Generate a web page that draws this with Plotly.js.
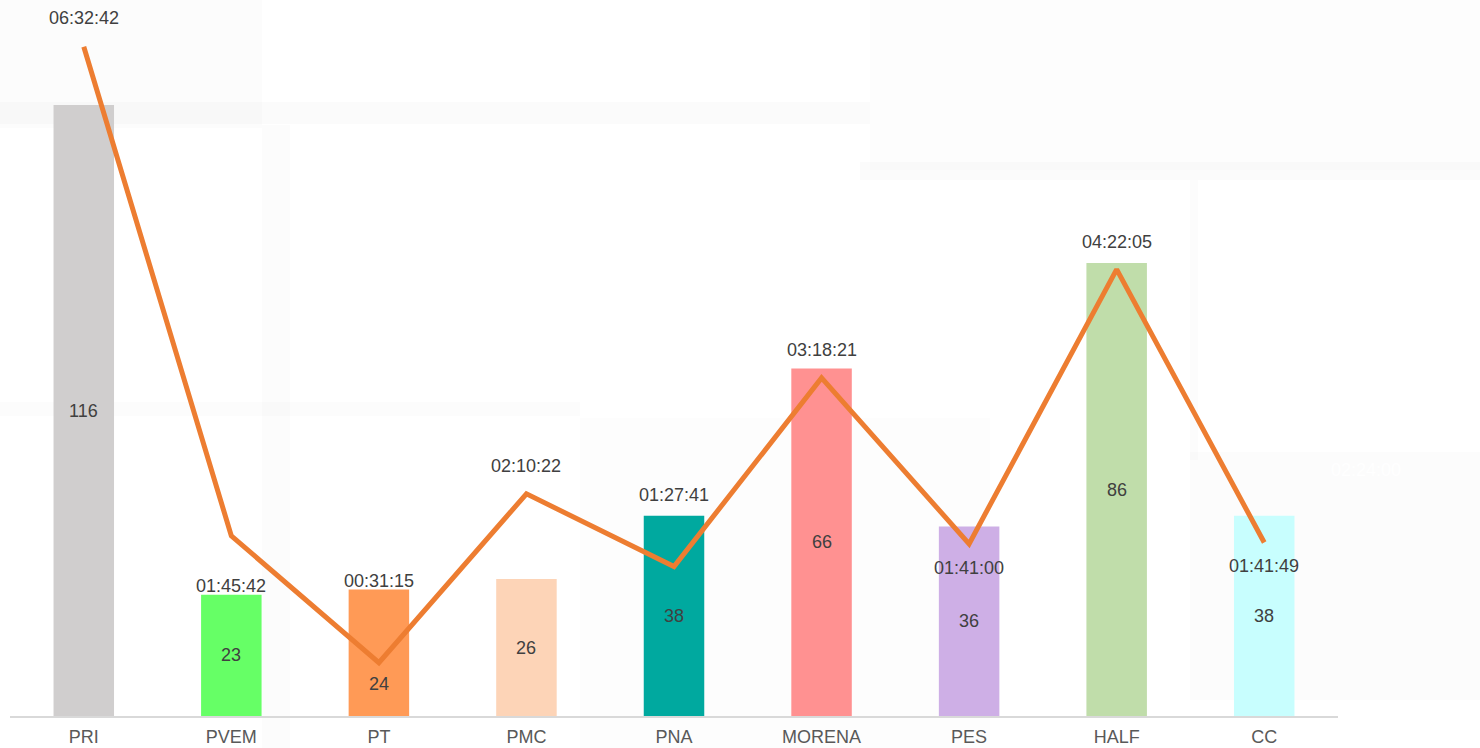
<!DOCTYPE html>
<html>
<head>
<meta charset="utf-8">
<script src="https://cdn.plot.ly/plotly-3.0.1.min.js"></script>
<style>
  html, body { margin: 0; padding: 0; background: #ffffff; }
  #chart { width: 1480px; height: 748px; }
</style>
</head>
<body>
<div id="chart"></div>
<script>
// ---- data ----
const parties = ["PRI", "PVEM", "PT", "PMC", "PNA", "MORENA", "PES", "HALF", "CC"];
const counts = [116, 23, 24, 26, 38, 66, 36, 86, 38];
const durations = ["06:32:42", "01:45:42", "00:31:15", "02:10:22", "01:27:41", "03:18:21", "01:41:00", "04:22:05", "01:41:49"];
const barColors = ["#D0CECE", "#66FF66", "#FF9A56", "#FDD4B7", "#00A99F", "#FF9191", "#CEAFE6", "#C0DDAA", "#C8FEFE"];

// ---- label placement (style) ----
const timeLabelShift = [29, -50, 82, 28, 72, 28, -24, 27, -24];
const countLabelShift = [0, 0, -31, 0, 0, 0, 0, 0, 0];

function toSeconds(s) {
  const p = s.split(":").map(Number);
  return p[0] * 3600 + p[1] * 60 + p[2];
}
const secs = durations.map(toSeconds);

const font = "Liberation Sans, Arial, sans-serif";

const traces = [
  {
    type: "bar",
    x: parties,
    y: counts,
    marker: { color: barColors, line: { width: 0 } },
    hoverinfo: "x+y",
    showlegend: false
  },
  {
    type: "scatter",
    mode: "lines",
    x: parties,
    y: secs,
    yaxis: "y2",
    line: { color: "#ED7D31", width: 5 },
    hoverinfo: "x+text",
    text: durations,
    showlegend: false
  }
];

const W = 1480, H = 748, mL = 10, mR = 142, mT = 10, mB = 32;
const pw = W - mL - mR, ph = H - mT - mB;

const annotations = [];
parties.forEach((p, i) => {
  annotations.push({
    x: p, y: counts[i] / 2, xref: "x", yref: "y",
    text: String(counts[i]), showarrow: false,
    yshift: countLabelShift[i],
    font: { family: font, size: 18, color: "#404040" }
  });
  annotations.push({
    x: p, y: secs[i], xref: "x", yref: "y2",
    text: durations[i], showarrow: false,
    yshift: timeLabelShift[i],
    font: { family: font, size: 18, color: "#404040" }
  });
});
// faint white secondary-axis label
annotations.push({
  x: (1403 - mL) / pw, y: (H - mB - 470) / ph, xref: "paper", yref: "paper",
  text: "02:24:00", showarrow: false,
  font: { family: font, size: 18, color: "#ffffff" }
});

// faint background bands (decorative)
function pxRect(x0, y0, x1, y1, color) {
  return {
    type: "rect", xref: "paper", yref: "paper", layer: "below",
    x0: (x0 - mL) / pw, x1: (x1 - mL) / pw,
    y0: (H - mB - y1) / ph, y1: (H - mB - y0) / ph,
    fillcolor: color, line: { width: 0 }
  };
}
const shapes = [
  pxRect(0, 0, 262, 128, "rgba(0,0,0,0.010)"),
  pxRect(0, 102, 870, 124, "rgba(0,0,0,0.014)"),
  pxRect(262, 125, 290, 748, "rgba(0,0,0,0.010)"),
  pxRect(870, 0, 1480, 170, "rgba(0,0,0,0.008)"),
  pxRect(860, 162, 1480, 180, "rgba(0,0,0,0.014)"),
  pxRect(1190, 180, 1198, 460, "rgba(0,0,0,0.012)"),
  pxRect(0, 402, 580, 416, "rgba(0,0,0,0.012)"),
  pxRect(1190, 452, 1480, 700, "rgba(0,0,0,0.010)"),
  pxRect(580, 418, 990, 748, "rgba(0,0,0,0.006)")
];

const layout = {
  width: W, height: H,
  margin: { l: mL, r: mR, t: mT, b: mB, pad: 0 },
  paper_bgcolor: "#ffffff",
  plot_bgcolor: "rgba(0,0,0,0)",
  bargap: 0.59,
  showlegend: false,
  font: { family: font, size: 18, color: "#595959" },
  xaxis: {
    type: "category",
    showgrid: false, zeroline: false,
    showline: true, linecolor: "#D9D9D9", linewidth: 2,
    ticks: "", ticklabelstandoff: 3,
    tickfont: { family: font, size: 18, color: "#595959" },
    range: [-0.5, 8.5]
  },
  yaxis: {
    range: [0, 134.05], visible: false, showgrid: false, zeroline: false, fixedrange: true
  },
  yaxis2: {
    range: [0, 24855], overlaying: "y", side: "right", visible: false,
    showgrid: false, zeroline: false
  },
  annotations: annotations,
  shapes: shapes
};

Plotly.newPlot("chart", traces, layout, { displayModeBar: false, staticPlot: true });
</script>
</body>
</html>
